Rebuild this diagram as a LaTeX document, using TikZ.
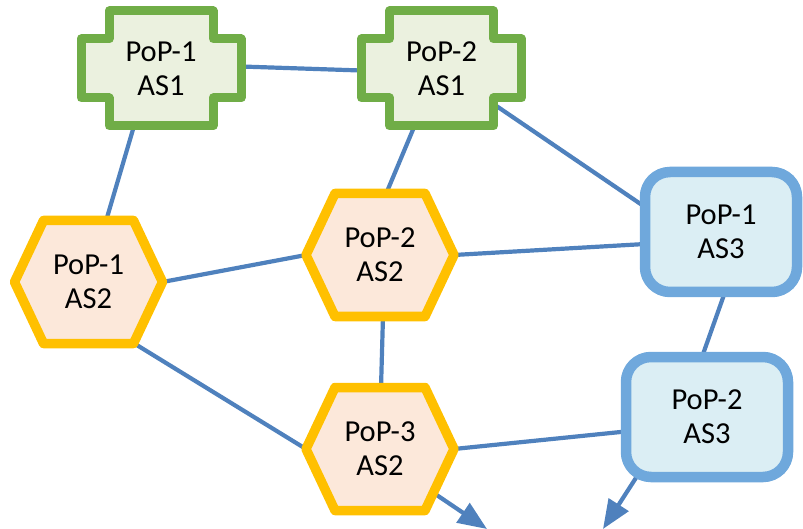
\documentclass[tikz,border=0pt]{standalone}
\usepackage{fontspec}
\setmainfont{Carlito}
\usetikzlibrary{arrows.meta}
\pgfdeclarelayer{background}
\pgfdeclarelayer{foreground}
\pgfsetlayers{background,main,foreground}

\definecolor{asgreen}{HTML}{70AD47}
\definecolor{asgreenfill}{HTML}{EBF1DF}
\definecolor{asorange}{HTML}{FFC000}
\definecolor{asorangefill}{HTML}{FCE8DA}
\definecolor{asblue}{HTML}{6FA8DC}
\definecolor{asbluefill}{HTML}{DBEEF4}
\definecolor{linkblue}{HTML}{4F81BD}

\tikzset{
  lbl/.style={font=\fontsize{30.5}{34}\selectfont, align=center, inner sep=0pt, text=black},
  link/.style={draw=linkblue, line width=4.2pt},
  outlink/.style={link, -{Triangle[length=29pt,width=23pt]}},
  pics/plusshape/.style={code={
    \draw[draw=asgreen, fill=asgreenfill, line width=9pt, line join=round]
      (-52,-57.5) -- (52,-57.5) -- (52,-29.5) -- (80,-29.5) -- (80,29.5)
      -- (52,29.5) -- (52,57.5) -- (-52,57.5) -- (-52,29.5) -- (-80,29.5)
      -- (-80,-29.5) -- (-52,-29.5) -- cycle;}},
  pics/hexshape/.style={code={
    \draw[draw=asorange, fill=asorangefill, line width=9.5pt, line join=round]
      (-74,0) -- (-45,-61.5) -- (45,-61.5) -- (74,0) -- (45,61.5) -- (-45,61.5) -- cycle;}},
  pics/roundbox/.style={code={
    \draw[draw=asblue, fill=asbluefill, line width=10.5pt, rounded corners=25pt]
      (-#1,-60) rectangle (#1,60);}}
}

\begin{document}
\begin{tikzpicture}[x=1pt, y=-1pt]
\useasboundingbox (0,0) rectangle (803,529);

% labels of the points of presence
\begin{pgfonlayer}{foreground}
\node[lbl] (c1) at (161,68.5) {PoP-1\\AS1};
\node[lbl] (c2) at (441.5,68.5) {PoP-2\\AS1};
\node[lbl] (h1) at (88.5,282) {PoP-1\\AS2};
\node[lbl] (h2) at (380,255) {PoP-2\\AS2};
\node[lbl] (h3) at (380,449) {PoP-3\\AS2};
\node[lbl] (r1) at (721,232) {PoP-1\\AS3};
\node[lbl] (r2) at (707,417) {PoP-2\\AS3};
\end{pgfonlayer}

% outlines: AS1 crosses, AS2 hexagons, AS3 rounded boxes
\pic at (c1.center) {plusshape};
\pic at (c2.center) {plusshape};
\pic at (h1.center) {hexshape};
\pic at (h2.center) {hexshape};
\pic at (h3.center) {hexshape};
\pic at (r1.center) {roundbox=76};
\pic at (r2.center) {roundbox=81};

% outgoing links
\coordinate (out1) at (487,529);
\coordinate (out2) at (603,529);

% links between points of presence
\begin{pgfonlayer}{background}
\draw[link] ([shift={(80,-2)}]c1.center) -- ([shift={(-80.5,2)}]c2.center);
\draw[link] ([shift={(-27,57.5)}]c1.center) -- ([shift={(17.5,-61)}]h1.center);
\draw[link] ([shift={(-27,57.5)}]c2.center) -- ([shift={(6,-61)}]h2.center);
\draw[link] ([shift={(52,35.5)}]c2.center) -- ([shift={(-76,-25)}]r1.center);
\draw[link] ([shift={(74,0)}]h1.center) -- ([shift={(-74,0)}]h2.center);
\draw[link] ([shift={(74,0)}]h2.center) -- ([shift={(-76,12)}]r1.center);
\draw[link] ([shift={(3,61)}]h2.center) -- ([shift={(1,-61)}]h3.center);
\draw[link] ([shift={(45,61)}]h1.center) -- ([shift={(-74,0)}]h3.center);
\draw[link] ([shift={(4,60)}]r1.center) -- ([shift={(-5,-60)}]r2.center);
\draw[link] ([shift={(74,0)}]h3.center) -- ([shift={(-81.5,14.5)}]r2.center);
\draw[outlink] ([shift={(53,43.5)}]h3.center) -- (out1);
\draw[outlink] ([shift={(-67,54.6)}]r2.center) -- (out2);
\end{pgfonlayer}
\end{tikzpicture}
\end{document}
